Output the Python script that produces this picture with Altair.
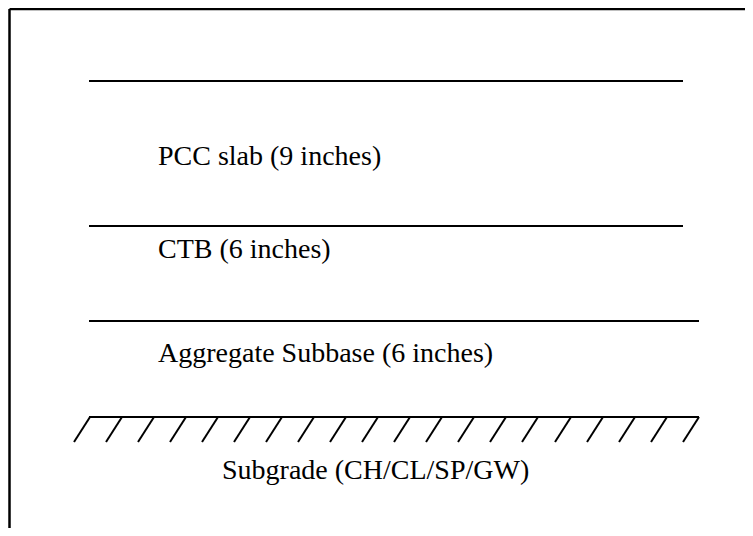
import altair as alt
import pandas as pd

# ---- diagram data (page-pixel coordinate system) ----
# layer boundary lines
line_y = [81, 226, 321]
line_x0 = [89, 89, 89]
line_x1 = [683, 683, 699]

# subgrade surface line with hatching
ground_y = [417]
ground_x0 = [89]
ground_x1 = [699]
hatch_top_x = [90, 122, 154, 186, 218, 250, 282, 314, 346, 378,
               410, 442, 474, 506, 538, 571, 603, 635, 667, 699]
hatch_bottom_x = [74, 106, 138, 170, 202, 234, 266, 298, 330, 362,
                  394, 426, 458, 490, 522, 555, 587, 619, 651, 683]
hatch_top_y = 417
hatch_bottom_y = 442

# frame (top and left edges visible)
frame_x = [9.5, 9.5]
frame_x2 = [760, 9.5]
frame_y = [9, 9]
frame_y2 = [9, 540]

# labels
labels = ["PCC slab (9 inches)", "CTB (6 inches)",
          "Aggregate Subbase (6 inches)", "Subgrade (CH/CL/SP/GW)"]
label_x = [158, 158, 158, 222]
label_y = [165, 258, 362, 479]

W, H = 737, 520
xs = alt.Scale(domain=[8, 8 + W], range=[0, W], nice=False, zero=False)
ys = alt.Scale(domain=[8, 8 + H], range=[0, H], nice=False, zero=False)

lines_df = pd.DataFrame({"x": line_x0 + ground_x0, "x2": line_x1 + ground_x1,
                         "y": line_y + ground_y})
hatch_df = pd.DataFrame({"x": hatch_top_x, "x2": hatch_bottom_x,
                         "y": [hatch_top_y] * len(hatch_top_x),
                         "y2": [hatch_bottom_y] * len(hatch_top_x)})
frame_df = pd.DataFrame({"x": frame_x, "x2": frame_x2, "y": frame_y, "y2": frame_y2})
text_df = pd.DataFrame({"label": labels, "x": label_x, "y": label_y})

rules = alt.Chart(lines_df).mark_rule(color="black", strokeWidth=2).encode(
    x=alt.X("x:Q", scale=xs, axis=None),
    x2="x2:Q",
    y=alt.Y("y:Q", scale=ys, axis=None),
)

hatch = alt.Chart(hatch_df).mark_rule(color="black", strokeWidth=2).encode(
    x=alt.X("x:Q", scale=xs, axis=None),
    x2="x2:Q",
    y=alt.Y("y:Q", scale=ys, axis=None),
    y2="y2:Q",
)

frame = alt.Chart(frame_df).mark_rule(color="black", strokeWidth=2.5).encode(
    x=alt.X("x:Q", scale=xs, axis=None),
    x2="x2:Q",
    y=alt.Y("y:Q", scale=ys, axis=None),
    y2="y2:Q",
)

text = alt.Chart(text_df).mark_text(
    font='"Liberation Serif", "Times New Roman", Times, serif',
    fontSize=28, color="black",
    align="left", baseline="alphabetic",
).encode(
    x=alt.X("x:Q", scale=xs, axis=None),
    y=alt.Y("y:Q", scale=ys, axis=None),
    text="label:N",
)

chart = alt.layer(frame, rules, hatch, text).properties(
    width=W, height=H, padding=0, autosize="none",
    background="white",
).configure_view(stroke=None)

chart.save("out.html", embed_options={"renderer": "svg", "actions": False})
